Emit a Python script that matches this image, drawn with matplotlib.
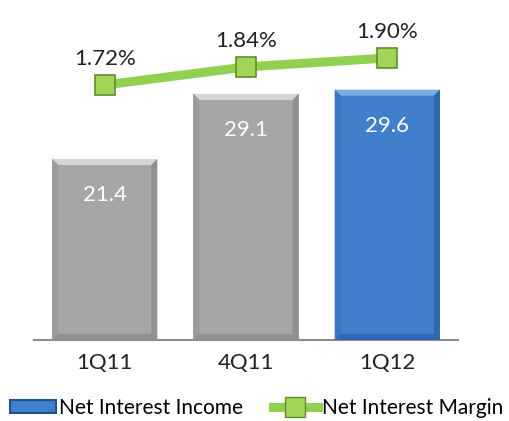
import matplotlib
matplotlib.use("Agg")
import matplotlib.pyplot as plt
from matplotlib.patches import Polygon, Patch
from matplotlib.lines import Line2D
from matplotlib.font_manager import fontManager

quarters = ["1Q11", "4Q11", "1Q12"]
income = [21.4, 29.1, 29.6]
margin = [1.72, 1.84, 1.90]
bar_colors = ["#A6A6A6", "#A6A6A6", "#3F7FCC"]

names = {f.name for f in fontManager.ttflist}
font = "Liberation Sans Narrow" if "Liberation Sans Narrow" in names else "Lato"
plt.rcParams["font.family"] = [font, "DejaVu Sans"]
fs = 15

fig = plt.figure(figsize=(5.09, 4.21), dpi=100)
ax = fig.add_axes([34 / 509, 81 / 421, 424 / 509, 296 / 421])
ax2 = ax.twinx()

x = list(range(len(quarters)))
bars = ax.bar(x, income, width=0.745, color=bar_colors, zorder=2)
ax.set_xlim(-0.5, 2.5)
ax.set_ylim(0, 35)
ax2.set_ylim(0.02, 1.993)

for s in ["top", "left", "right"]:
    ax.spines[s].set_visible(False)
    ax2.spines[s].set_visible(False)
ax2.spines["bottom"].set_visible(False)
ax.spines["bottom"].set_color("#8C8C8C")
ax.spines["bottom"].set_linewidth(1.5)
ax.set_yticks([])
ax2.set_yticks([])
ax.set_xticks(x)
ax.set_xticklabels(quarters, fontsize=16, color="#222222")
ax.tick_params(axis="x", length=0, pad=9)

# bevel look on the bars, built from each bar's own geometry
fig.canvas.draw()
shades = {"#A6A6A6": ("#D6D6D6", "#9C9C9C", "#909090"),
          "#3F7FCC": ("#78ADE8", "#3A76C2", "#3266AE")}
b = 6
for rect, col in zip(bars, bar_colors):
    (x0, y0), (x1, y1) = ax.transData.transform(
        [(rect.get_x(), 0), (rect.get_x() + rect.get_width(), rect.get_height())])
    light, side, dark = shades[col]
    top = [(x0, y1), (x1, y1), (x1 - b, y1 - b), (x0 + b, y1 - b)]
    left = [(x0, y1), (x0 + b, y1 - b), (x0 + b, y0), (x0, y0)]
    right = [(x1, y1), (x1 - b, y1 - b), (x1 - b, y0), (x1, y0)]
    bottom = [(x0, y0), (x0 + b, y0 + b), (x1 - b, y0 + b), (x1, y0)]
    for pts, c in [(top, light), (left, side), (right, dark), (bottom, dark)]:
        fig.add_artist(Polygon(pts, closed=True, transform=None, color=c, lw=0, zorder=3))

for xi, v in zip(x, income):
    ax.annotate(f"{v:.1f}", (xi, v), xytext=(0, -26), textcoords="offset points",
                ha="center", va="center", color="white", fontsize=16, zorder=5)

ax2.plot(x, margin, color="#92D050", lw=6.5, marker="s", markersize=15,
         markerfacecolor="#A2D457", markeredgecolor="#5F8F2A", markeredgewidth=1.2,
         zorder=6)
for xi, v in zip(x, margin):
    ax2.annotate(f"{v:.2f}%", (xi, v), xytext=(0, 19), textcoords="offset points",
                 ha="center", va="center", color="#222222", fontsize=16)

handles = [Patch(facecolor="#3F7FCC", edgecolor="#24508A", lw=1.5),
           Line2D([], [], color="#92D050", lw=6.5, marker="s", markersize=15,
                  markerfacecolor="#A2D457", markeredgecolor="#5F8F2A")]
fig.legend(handles, ["Net Interest Income", "Net Interest Margin"], ncol=2,
           loc="center left", bbox_to_anchor=(0.0, 13 / 421), frameon=False,
           fontsize=fs, handlelength=2.2, handletextpad=0.15, columnspacing=1.4,
           handleheight=0.6, borderpad=0.2, borderaxespad=0.3)

fig.savefig("out.png", dpi=100)
